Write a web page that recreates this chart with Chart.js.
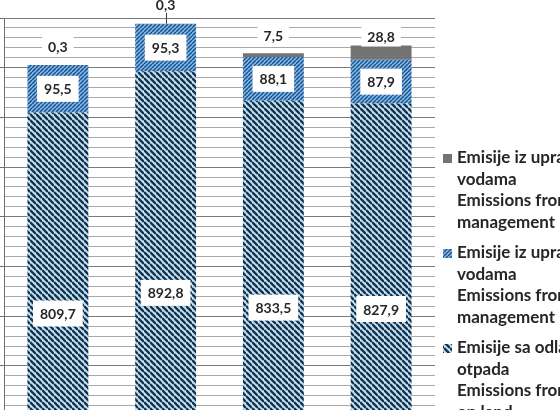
<!DOCTYPE html>
<html>
<head>
<meta charset="utf-8">
<script src="https://cdn.jsdelivr.net/npm/chart.js@4"></script>
<style>
  html, body { margin: 0; padding: 0; overflow: hidden; background: #fff; }
  canvas { display: block; }
</style>
</head>
<body>
<canvas id="chart" width="560" height="516"></canvas>
<script>
// values (Gg CO2 eq)
const categories = ['2011', '2012', '2013', '2014'];
const wasteDisposal = [809.7, 892.8, 833.5, 827.9];
const domesticWastewater = [95.5, 95.3, 88.1, 87.9];
const industrialWastewater = [0.3, 0.3, 7.5, 28.8];

const legendText = [
  ['Emisije iz upravljanja industrijskim otpadnim', 'vodama', 'Emissions from industrial wastewater', 'management'],
  ['Emisije iz upravljanja komunalnim otpadnim', 'vodama', 'Emissions from domestic wastewater', 'management'],
  ['Emisije sa odlagališta čvrstog', 'otpada', 'Emissions from solid waste disposal', 'on land']
];

Chart.defaults.font.family = 'Lato';

function hatch(size, bg, fg, lw, dir) {
  const c = document.createElement('canvas');
  c.width = size;
  c.height = size;
  const g = c.getContext('2d');
  g.fillStyle = bg;
  g.fillRect(0, 0, size, size);
  g.strokeStyle = fg;
  g.lineWidth = lw;
  g.beginPath();
  for (let k = -1; k <= 1; k++) {
    if (dir === 'down') {
      g.moveTo(0, k * size); g.lineTo(size, (k + 1) * size);
    } else {
      g.moveTo(0, (k + 1) * size); g.lineTo(size, k * size);
    }
  }
  g.stroke();
  return g.createPattern(c, 'repeat');
}

const wastePattern = hatch(6, '#c4e4f5', '#17334f', 2.4, 'down');
const waterPattern = hatch(4, '#86bbe8', '#1d5290', 1.5, 'up');
const grayFill = '#737373';

function fmt(v) {
  return v.toFixed(1).replace('.', ',');
}

// how far the small top labels sit above their bar
const topLift = [18, 19, 18, 9];

const barLabels = {
  id: 'barLabels',
  afterDatasetsDraw(chart) {
    const ctx = chart.ctx;
    ctx.save();
    ctx.font = 'bold 14px Lato';
    ctx.textAlign = 'center';
    ctx.textBaseline = 'middle';
    chart.data.datasets.forEach(function (ds, i) {
      const meta = chart.getDatasetMeta(i);
      meta.data.forEach(function (bar, j) {
        const txt = fmt(ds.data[j]);
        const w = ctx.measureText(txt).width;
        let y, padX, h;
        if (i < 2) {
          y = (bar.y + bar.base) / 2;
          padX = 7; h = 26;
        } else {
          y = bar.y - topLift[j];
          padX = 6; h = 20;
        }
        ctx.fillStyle = '#fff';
        ctx.fillRect(bar.x - w / 2 - padX, y - h / 2, w + padX * 2, h);
        if (i === 2 && y + h / 2 < chart.chartArea.top) {
          ctx.strokeStyle = '#404040';
          ctx.lineWidth = 1;
          ctx.beginPath();
          ctx.moveTo(Math.round(bar.x) + 0.5, y + h / 2 - 2);
          ctx.lineTo(Math.round(bar.x) + 0.5, bar.y);
          ctx.stroke();
        }
        ctx.fillStyle = '#262626';
        ctx.fillText(txt, bar.x, y + 1);
      });
    });
    ctx.restore();
  }
};

const sideLegend = {
  id: 'sideLegend',
  afterDraw(chart) {
    const ctx = chart.ctx;
    const fills = [grayFill, waterPattern, wastePattern];
    ctx.save();
    ctx.font = 'bold 17px Lato';
    ctx.textBaseline = 'middle';
    ctx.textAlign = 'left';
    legendText.forEach(function (lines, i) {
      const top = 158 + i * 95;
      ctx.fillStyle = fills[i];
      ctx.fillRect(443, top - 4, 9, 9);
      ctx.fillStyle = '#262626';
      lines.forEach(function (line, k) {
        ctx.fillText(line, 457, top + k * 21.5);
      });
    });
    ctx.restore();
  }
};

const ctx = document.getElementById('chart').getContext('2d');
new Chart(ctx, {
  type: 'bar',
  data: {
    labels: categories,
    datasets: [
      { label: legendText[2].join(' '), data: wasteDisposal, backgroundColor: wastePattern },
      { label: legendText[1].join(' '), data: domesticWastewater, backgroundColor: waterPattern },
      { label: legendText[0].join(' '), data: industrialWastewater, backgroundColor: grayFill }
    ]
  },
  options: {
    responsive: false,
    animation: false,
    layout: { padding: { left: 0, top: 18, right: 125, bottom: 1 } },
    datasets: { bar: { categoryPercentage: 1, barPercentage: 0.565 } },
    plugins: {
      legend: { display: false },
      tooltip: { enabled: false }
    },
    scales: {
      x: { stacked: true, display: false },
      y: {
        stacked: true,
        min: 0,
        max: 1000,
        ticks: { display: false, stepSize: 20 },
        grid: {
          tickLength: 4,
          color: function (c) { return c.tick.value % 100 === 0 ? '#7a7a7a' : '#a8a8a8'; },
          tickColor: function (c) { return c.tick.value % 100 === 0 ? '#6f6f6f' : 'rgba(0,0,0,0)'; }
        },
        border: { color: '#6f6f6f' }
      }
    }
  },
  plugins: [barLabels, sideLegend]
});
</script>
</body>
</html>
